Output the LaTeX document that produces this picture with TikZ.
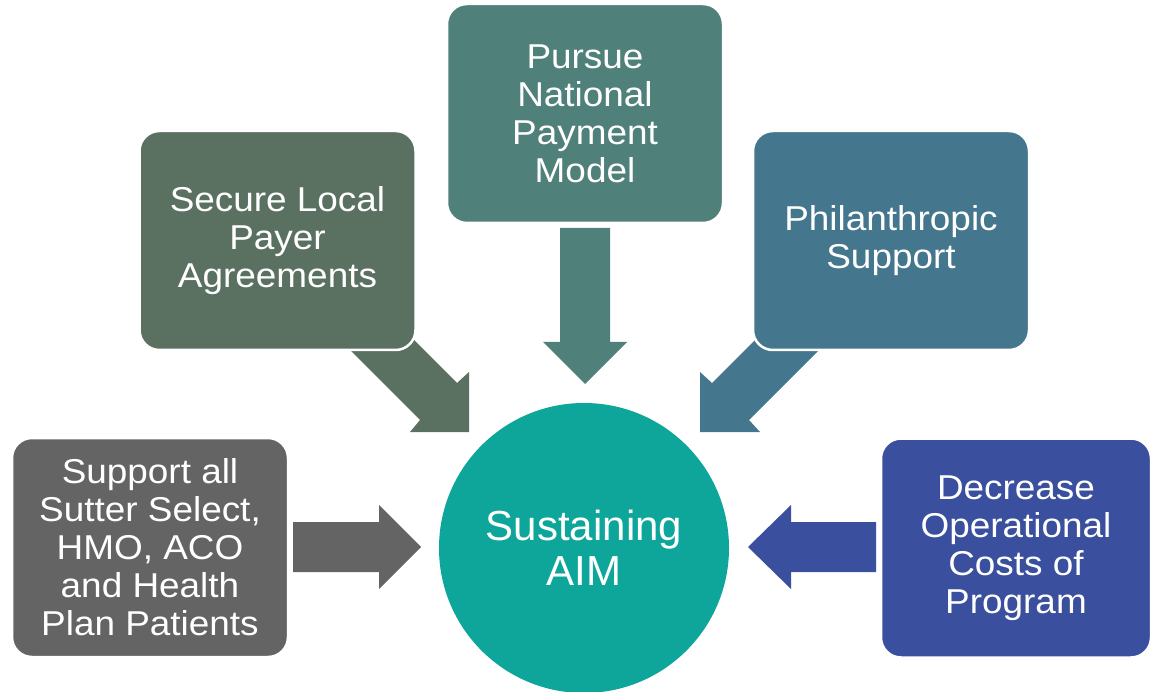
\documentclass[tikz,border=0pt]{standalone}
\usepackage{fontspec}
\setmainfont{Liberation Sans}
\newfontfamily\cardfont[FakeStretch=1.07]{Liberation Sans}
\definecolor{cgray}{HTML}{646464}
\definecolor{cmoss}{HTML}{5A7162}
\definecolor{cteal}{HTML}{50807A}
\definecolor{csteel}{HTML}{44768E}
\definecolor{cnavy}{HTML}{3A4F9E}
\definecolor{caim}{HTML}{0EA69A}
\begin{document}
\begin{tikzpicture}[x=1pt,y=-1pt,
  card/.style={fill=#1, draw=white, line width=2.5pt, rounded corners=20pt,
    minimum width=276pt, minimum height=219pt, inner sep=0pt,
    text=white, align=center, font=\cardfont\fontsize{34.5}{38}\selectfont},
  hub/.style={circle, fill=caim, minimum size=290pt, inner sep=0pt,
    text=white, align=center, font=\fontsize{42}{45}\selectfont}]
\useasboundingbox (0,0) rectangle (1151,692);

% block arrows pointing at the hub (drawn first so the cards cover their tails)
\fill[cgray]  (293,522) -- (379,522) -- (379,505) -- (421,547) -- (379,589) -- (379,572) -- (293,572) -- cycle;
\fill[cnavy]  (876,522) -- (791,522) -- (791,505) -- (748,547) -- (791,589) -- (791,572) -- (876,572) -- cycle;
\fill[cteal]  (560,228) -- (610,228) -- (610,342) -- (627,342) -- (585,384) -- (543,342) -- (560,342) -- cycle;
\fill[cmoss]  (340,340) -- (377,303) -- (457,383) -- (469,372) -- (469,432) -- (410,432) -- (420,420) -- cycle;
\fill[csteel] (829,340) -- (792,303) -- (712,383) -- (700,372) -- (700,432) -- (760,432) -- (749,420) -- cycle;

% goal cards
\node[card=cgray]  (patients) at (150,547.5) {Support all\\Sutter Select,\\HMO, ACO\\and Health\\Plan Patients};
\node[card=cmoss]  (local)    at (277.5,240.5) {Secure Local\\Payer\\Agreements};
\node[card=cteal]  (national) at (585,113.5) {Pursue\\National\\Payment\\Model};
\node[card=csteel] (phil)     at (891,240.5) {Philanthropic\\Support};
\node[card=cnavy, minimum width=270pt] (costs) at (1016,548) {Decrease\\Operational\\Costs of\\Program};

% central hub
\node[hub] (aim) at (584,548) {Sustaining\\AIM};
\end{tikzpicture}
\end{document}
